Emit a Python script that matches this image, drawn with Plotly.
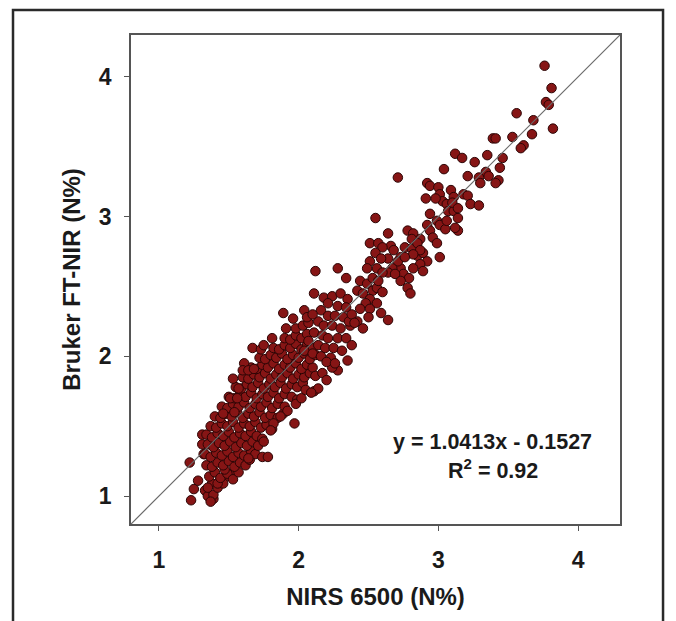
import plotly.graph_objects as go

# ---- data (NIRS 6500 N%, Bruker FT-NIR N%) ----
tail_pts = [
    (3.76, 4.08), (3.81, 3.92), (3.77, 3.82), (3.79, 3.80), (3.56, 3.74), (3.68, 3.69),
    (3.82, 3.63), (3.67, 3.59), (3.61, 3.51), (3.59, 3.49), (3.53, 3.57), (3.46, 3.42),
    (3.35, 3.44), (3.39, 3.56), (3.41, 3.56), (3.44, 3.35), (3.43, 3.26), (3.41, 3.24),
    (3.26, 3.39), (3.12, 3.45), (3.17, 3.42), (3.04, 3.34), (3.34, 3.32), (3.36, 3.29),
    (3.21, 3.29), (3.29, 3.28), (3.30, 3.24),
]

upper_pts = [
    (2.92, 3.24), (2.94, 3.22), (3.00, 3.21), (2.91, 3.13), (3.01, 3.16), (3.03, 3.11),
    (3.09, 3.19), (3.11, 3.14), (3.18, 3.16), (3.21, 3.15), (3.23, 3.09), (3.29, 3.08),
    (3.06, 3.09), (3.07, 3.04), (3.11, 3.04), (3.14, 2.99), (2.94, 3.02), (2.99, 2.97),
    (3.01, 2.94), (3.05, 2.91), (2.92, 2.94), (2.94, 2.90), (3.14, 2.90), (2.78, 2.90),
    (2.82, 2.88), (2.87, 2.84), (2.96, 2.85), (2.99, 2.81), (3.01, 2.71), (2.98, 3.13),
    (3.10, 3.10), (3.14, 3.06), (3.06, 2.97), (3.12, 2.92), (2.81, 2.84), (2.85, 2.81),
    (2.87, 2.76), (2.82, 2.73), (2.76, 2.71), (2.71, 3.28), (2.55, 2.99),
]

midupper_pts = [
    (2.76, 2.78), (2.81, 2.77), (2.85, 2.72), (2.89, 2.74), (2.92, 2.68), (2.87, 2.66),
    (2.82, 2.63), (2.89, 2.61), (2.73, 2.71), (2.73, 2.63), (2.75, 2.59), (2.79, 2.56),
    (2.73, 2.54), (2.78, 2.49), (2.80, 2.45), (2.66, 2.79), (2.68, 2.76), (2.64, 2.70),
    (2.71, 2.68), (2.67, 2.63), (2.64, 2.60), (2.69, 2.59), (2.51, 2.81), (2.57, 2.81),
    (2.60, 2.78), (2.55, 2.74), (2.59, 2.70), (2.51, 2.68), (2.56, 2.63), (2.49, 2.63),
    (2.60, 2.60), (2.53, 2.56), (2.57, 2.54), (2.64, 2.88),
]

mid_pts = [
    (2.44, 2.54), (2.49, 2.52), (2.42, 2.47), (2.46, 2.45), (2.53, 2.47), (2.56, 2.49),
    (2.60, 2.46), (2.51, 2.41), (2.56, 2.38), (2.48, 2.38), (2.44, 2.34), (2.51, 2.34),
    (2.59, 2.31), (2.50, 2.28), (2.42, 2.25), (2.64, 2.26), (2.46, 2.20), (2.37, 2.22),
    (2.11, 2.45), (1.89, 2.31), (2.04, 2.33), (1.96, 2.27), (1.91, 2.20), (1.81, 2.13),
    (1.67, 2.06), (1.73, 2.05), (1.75, 2.08), (1.61, 1.95), (1.60, 1.90), (1.64, 1.90),
    (1.68, 1.91), (1.53, 1.84), (1.57, 1.77), (1.51, 1.70), (1.56, 1.70), (1.46, 1.59),
    (1.54, 1.60), (2.35, 1.97), (2.28, 1.90), (2.24, 1.92), (2.11, 1.75),
    (2.18, 2.42), (2.24, 2.43), (2.30, 2.45), (2.35, 2.41), (2.21, 2.38), (2.28, 2.36),
    (2.34, 2.35), (2.16, 2.33), (2.21, 2.29), (2.26, 2.29), (2.32, 2.28), (2.36, 2.25),
    (2.14, 2.25), (2.18, 2.22), (2.24, 2.22), (2.30, 2.20), (2.11, 2.17), (2.17, 2.15),
    (2.21, 2.13), (2.28, 2.13), (2.34, 2.13), (2.07, 2.11), (2.14, 2.08), (2.19, 2.06),
    (2.25, 2.06), (2.31, 2.04), (2.04, 2.04), (2.10, 2.02), (2.16, 2.00), (2.23, 1.99),
    (2.12, 2.61), (2.28, 2.63), (2.34, 2.56), (2.14, 1.77), (2.09, 1.74), (1.97, 1.52),
    (1.74, 1.28), (1.78, 1.28), (2.38, 2.30), (2.40, 2.24), (2.38, 2.08), (2.20, 1.96),
    (2.26, 1.95), (1.98, 2.20), (2.03, 2.22), (2.07, 2.24), (2.06, 2.28), (2.10, 2.30),
    (2.12, 1.86), (2.17, 1.88), (2.20, 1.83),
]

core_pts = [
    (1.36, 1.14), (1.40, 1.17), (1.44, 1.13), (1.49, 1.16), (1.53, 1.12), (1.57, 1.17), (1.47, 1.19),
    (1.34, 1.22), (1.38, 1.21), (1.42, 1.24), (1.46, 1.22), (1.50, 1.25), (1.54, 1.21), (1.58, 1.24),
    (1.62, 1.22), (1.65, 1.26),
    (1.33, 1.30), (1.37, 1.28), (1.41, 1.31), (1.45, 1.29), (1.49, 1.32), (1.53, 1.28), (1.57, 1.31),
    (1.61, 1.29), (1.66, 1.32), (1.69, 1.30),
    (1.35, 1.37), (1.39, 1.35), (1.43, 1.38), (1.47, 1.36), (1.51, 1.39), (1.55, 1.35), (1.59, 1.38),
    (1.63, 1.36), (1.67, 1.39), (1.71, 1.36),
    (1.34, 1.44), (1.38, 1.42), (1.42, 1.45), (1.46, 1.43), (1.50, 1.46), (1.54, 1.42), (1.58, 1.45),
    (1.62, 1.43), (1.66, 1.46), (1.70, 1.43), (1.74, 1.41),
    (1.37, 1.50), (1.41, 1.49), (1.45, 1.52), (1.49, 1.50), (1.53, 1.53), (1.57, 1.49), (1.61, 1.52),
    (1.65, 1.50), (1.69, 1.53), (1.73, 1.49), (1.77, 1.51), (1.81, 1.48),
    (1.40, 1.57), (1.44, 1.56), (1.48, 1.59), (1.52, 1.57), (1.56, 1.60), (1.60, 1.56), (1.64, 1.59),
    (1.68, 1.57), (1.72, 1.60), (1.76, 1.56), (1.80, 1.58), (1.85, 1.56), (1.89, 1.59),
    (1.45, 1.64), (1.49, 1.63), (1.53, 1.66), (1.57, 1.64), (1.61, 1.67), (1.65, 1.63), (1.69, 1.66),
    (1.73, 1.64), (1.77, 1.67), (1.81, 1.63), (1.85, 1.66), (1.90, 1.64),
    (1.50, 1.71), (1.54, 1.70), (1.58, 1.73), (1.62, 1.71), (1.66, 1.74), (1.70, 1.70), (1.74, 1.73),
    (1.78, 1.71), (1.82, 1.74), (1.86, 1.70), (1.90, 1.73), (1.95, 1.71), (1.99, 1.69),
    (1.55, 1.78), (1.59, 1.77), (1.63, 1.80), (1.67, 1.78), (1.71, 1.81), (1.75, 1.77), (1.79, 1.80),
    (1.83, 1.78), (1.87, 1.81), (1.91, 1.77), (1.95, 1.80), (1.99, 1.78), (2.03, 1.81),
    (1.60, 1.85), (1.64, 1.84), (1.68, 1.87), (1.72, 1.85), (1.76, 1.88), (1.80, 1.84), (1.84, 1.87),
    (1.88, 1.85), (1.92, 1.88), (1.96, 1.84), (2.00, 1.87), (2.04, 1.85), (2.08, 1.88),
    (1.66, 1.92), (1.70, 1.91), (1.74, 1.94), (1.78, 1.92), (1.82, 1.95), (1.86, 1.91), (1.90, 1.94),
    (1.94, 1.92), (1.98, 1.95), (2.02, 1.91), (2.06, 1.94), (2.10, 1.92),
    (1.72, 1.99), (1.76, 1.98), (1.80, 2.01), (1.84, 1.99), (1.88, 2.02), (1.92, 1.98), (1.96, 2.01),
    (2.00, 1.99), (2.04, 2.02), (2.08, 1.98), (2.12, 2.01),
    (1.82, 2.06), (1.86, 2.05), (1.90, 2.08), (1.94, 2.06), (1.98, 2.09), (2.02, 2.05), (2.06, 2.08),
    (2.10, 2.06),
    (1.90, 2.13), (1.94, 2.12), (1.98, 2.15), (2.02, 2.13), (2.06, 2.16),
    (1.98, 1.66), (2.02, 1.70), (2.05, 1.76), (1.92, 1.61), (1.87, 1.57), (1.82, 1.52),
    (1.80, 1.47), (1.75, 1.39), (1.64, 1.27),
]

base_pts = [
    (1.22, 1.24), (1.23, 0.97), (1.25, 1.05), (1.28, 1.11), (1.31, 1.44), (1.31, 1.37),
    (1.32, 1.30), (1.33, 1.04), (1.35, 1.00), (1.39, 0.98), (1.39, 1.01), (1.38, 1.09),
    (1.42, 1.06), (1.44, 1.12), (1.48, 1.14), (1.51, 1.16), (1.46, 1.09), (1.37, 0.96),
    (1.35, 1.06), (1.42, 1.09),
]

axis_range = [0.8, 4.3]
tick_vals = [1, 2, 3, 4]
tick_text = ["1", "2", "3", "4"]
one_to_one = [0.8, 4.3]
eq_text = "y = 1.0413x - 0.1527"
r2_text = "R<sup>2</sup> = 0.92"

all_pts = base_pts + core_pts + mid_pts + midupper_pts + upper_pts + tail_pts
nirs = [p[0] for p in all_pts]
bruker = [p[1] for p in all_pts]

FONT = "Liberation Sans, Arial, Helvetica, sans-serif"
TXT = "#1a1a1a"

fig = go.Figure()
fig.add_trace(go.Scatter(
    x=nirs, y=bruker, mode="markers",
    marker=dict(size=9.5, color="#861515", line=dict(color="#2c0505", width=1)),
    showlegend=False, hoverinfo="x+y",
))
fig.add_trace(go.Scatter(
    x=one_to_one, y=one_to_one, mode="lines",
    line=dict(color="#6a6a6a", width=1.2), showlegend=False, hoverinfo="skip",
))

axis_common = dict(
    range=axis_range, tickvals=tick_vals, ticktext=tick_text,
    showgrid=False, zeroline=False, showline=True, mirror=True,
    linecolor="#555555", linewidth=1.5,
    ticks="outside", ticklen=5, tickwidth=1.2, tickcolor="#555555",
    tickfont=dict(family=FONT, size=23, color=TXT, weight="bold"),
)

fig.update_layout(
    width=668, height=613,
    margin=dict(l=123, r=56, t=27, b=97),
    paper_bgcolor="white", plot_bgcolor="white",
    xaxis=dict(**axis_common, ticklabelstandoff=10,
               title=dict(text="NIRS 6500 (N%)", standoff=16,
                          font=dict(family=FONT, size=24, color=TXT, weight="bold"))),
    yaxis=dict(**axis_common, ticklabelstandoff=8,
               title=dict(text="Bruker FT-NIR (N%)", standoff=11,
                          font=dict(family=FONT, size=24, color=TXT, weight="bold"))),
    annotations=[
        dict(text=eq_text, xref="paper", yref="paper", x=0.740, y=0.1677,
             xanchor="center", yanchor="middle", showarrow=False,
             font=dict(family=FONT, size=21.5, color=TXT, weight="bold")),
        dict(text=r2_text, xref="paper", yref="paper", x=0.740, y=0.1115,
             xanchor="center", yanchor="middle", showarrow=False,
             font=dict(family=FONT, size=21.5, color=TXT, weight="bold")),
    ],
    shapes=[
        dict(type="rect", xref="paper", yref="paper",
             x0=-0.2413, x1=1.088, y0=-0.215, y1=1.0511,
             line=dict(color="#2a2a2a", width=2.5), fillcolor="rgba(0,0,0,0)",
             layer="above"),
    ],
)

fig.write_html("out.html")
